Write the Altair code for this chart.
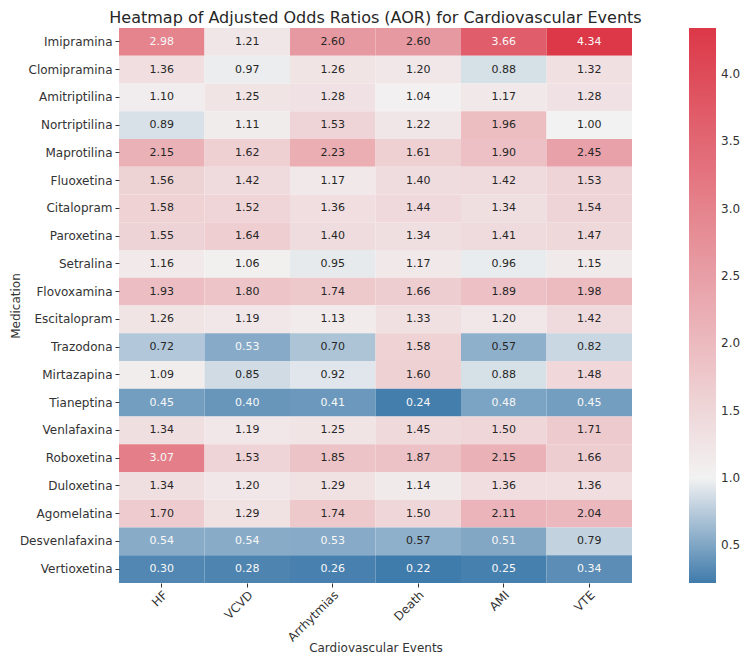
import altair as alt
import pandas as pd

medications = ["Imipramina", "Clomipramina", "Amitriptilina", "Nortriptilina", "Maprotilina",
               "Fluoxetina", "Citalopram", "Paroxetina", "Setralina", "Flovoxamina",
               "Escitalopram", "Trazodona", "Mirtazapina", "Tianeptina", "Venlafaxina",
               "Roboxetina", "Duloxetina", "Agomelatina", "Desvenlafaxina", "Vertioxetina"]
events = ["HF", "VCVD", "Arrhytmias", "Death", "AMI", "VTE"]

hf = [2.98, 1.36, 1.10, 0.89, 2.15, 1.56, 1.58, 1.55, 1.16, 1.93,
      1.26, 0.72, 1.09, 0.45, 1.34, 3.07, 1.34, 1.70, 0.54, 0.30]
vcvd = [1.21, 0.97, 1.25, 1.11, 1.62, 1.42, 1.52, 1.64, 1.06, 1.80,
        1.19, 0.53, 0.85, 0.40, 1.19, 1.53, 1.20, 1.29, 0.54, 0.28]
arrhytmias = [2.60, 1.26, 1.28, 1.53, 2.23, 1.17, 1.36, 1.40, 0.95, 1.74,
              1.13, 0.70, 0.92, 0.41, 1.25, 1.85, 1.29, 1.74, 0.53, 0.26]
death = [2.60, 1.20, 1.04, 1.22, 1.61, 1.40, 1.44, 1.34, 1.17, 1.66,
         1.33, 1.58, 1.60, 0.24, 1.45, 1.87, 1.14, 1.50, 0.57, 0.22]
ami = [3.66, 0.88, 1.17, 1.96, 1.90, 1.42, 1.34, 1.41, 0.96, 1.89,
       1.20, 0.57, 0.88, 0.48, 1.50, 2.15, 1.36, 2.11, 0.51, 0.25]
vte = [4.34, 1.32, 1.28, 1.00, 2.45, 1.53, 1.54, 1.47, 1.15, 1.98,
       1.42, 0.82, 1.48, 0.45, 1.71, 1.66, 1.36, 2.04, 0.79, 0.34]

series = [hf, vcvd, arrhytmias, death, ami, vte]
rows = []
for ev, vals in zip(events, series):
    for med, v in zip(medications, vals):
        rows.append({"event": ev, "medication": med, "aor": v})
df = pd.DataFrame(rows)

color_domain = [0.22, 1.0, 4.34]
color_range = ["#3f7bab", "#f2f2f2", "#dc3848"]
legend_ticks = [0.5, 1.0, 1.5, 2.0, 2.5, 3.0, 3.5, 4.0]

FONT = "DejaVu Sans"
TXT = "#333333"

base = alt.Chart(df).encode(
    x=alt.X("event:N", sort=events, title="Cardiovascular Events",
            scale=alt.Scale(paddingInner=0, paddingOuter=0),
            axis=alt.Axis(labelAngle=-45, labelAlign="right", labelBaseline="top",
                          labelPadding=2, titleY=64, titleBaseline="middle")),
    y=alt.Y("medication:N", sort=medications, title="Medication",
            scale=alt.Scale(paddingInner=0, paddingOuter=0),
            axis=alt.Axis(labelPadding=3, titleX=-104, titleY=277.5, titleAngle=-90,
                          titleAlign="center", titleBaseline="middle")),
)

rect = base.mark_rect().encode(
    color=alt.Color("aor:Q",
                    scale=alt.Scale(domain=color_domain, range=color_range, interpolate="rgb"),
                    legend=alt.Legend(title=None, orient="none", legendX=570, legendY=0,
                                      direction="vertical", gradientLength=555,
                                      gradientThickness=27, values=legend_ticks,
                                      labelFontSize=12, labelColor=TXT, labelFont=FONT,
                                      labelOffset=5, labelOverlap=False,
                                      gradientStrokeWidth=0, format=".1f"))
)

text = base.mark_text(fontSize=11, font=FONT).encode(
    text=alt.Text("aor:Q", format=".2f"),
    color=alt.condition("datum.aor > 2.8 || datum.aor < 0.555",
                        alt.value("#f8f8f8"), alt.value("#262626")),
)

chart = alt.layer(rect, text).properties(
    width=513, height=555,
    autosize=alt.AutoSizeParams(type="none"),
    padding={"left": 111, "top": 20, "right": 110, "bottom": 73},
    title=alt.Title("Heatmap of Adjusted Odds Ratios (AOR) for Cardiovascular Events",
                    fontSize=16, font=FONT, fontWeight="normal", color="#262626",
                    anchor="middle", offset=2),
).configure_view(strokeWidth=0).configure_axis(
    domain=False, labelFont=FONT, labelFontSize=12, labelColor=TXT,
    tickColor=TXT, tickSize=4, titleFont=FONT, titleFontSize=12,
    titleFontWeight="normal", titleColor=TXT, grid=False,
)

chart.save("out.html", embed_options={"renderer": "svg", "actions": False})
